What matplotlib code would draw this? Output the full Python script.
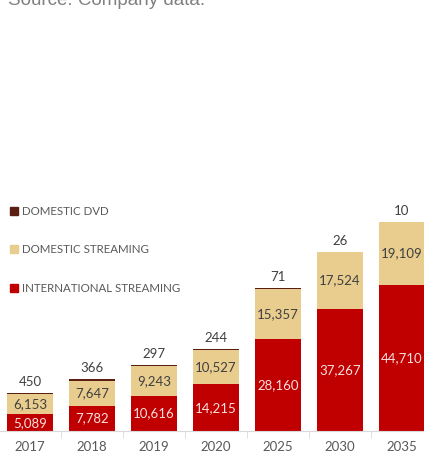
import matplotlib
matplotlib.use("Agg")
import matplotlib.pyplot as plt
from matplotlib.lines import Line2D
import numpy as np

# Data
years = ["2017", "2018", "2019", "2020", "2025", "2030", "2035"]
intl_streaming = [5089, 7782, 10616, 14215, 28160, 37267, 44710]
dom_streaming = [6153, 7647, 9243, 10527, 15357, 17524, 19109]
dom_dvd = [450, 366, 297, 244, 71, 26, 10]

RED = "#C00000"
TAN = "#E8CD8F"
DVD = "#5A1E12"

plt.rcParams["font.family"] = ["Lato", "DejaVu Sans"]

W, H = 424, 453
fig = plt.figure(figsize=(W / 100, H / 100), dpi=100)

# axes placed in pixel terms so the right-most bar runs off the edge like the original
ax = fig.add_axes([-1 / W, 22 / H, 434 / W, 229 / H])

x = np.arange(len(years))
bw = 0.74
intl = np.array(intl_streaming)
dom = np.array(dom_streaming)
dvd = np.array(dom_dvd)

ax.bar(x, intl, bw, color=RED, zorder=2)
ax.bar(x, dom, bw, bottom=intl, color=TAN, zorder=2)
ax.bar(x, dvd, bw, bottom=intl + dom, color=DVD, zorder=2)

ax.set_xlim(-0.5, len(years) - 0.5)
ax.set_ylim(0, 70000)

# segment labels
for i in range(len(years)):
    ax.text(x[i], intl[i] / 2, f"{intl[i]:,}", ha="center", va="center",
            color="#F6E0E0", fontsize=9.5)
    ax.text(x[i], intl[i] + dom[i] / 2, f"{dom[i]:,}", ha="center", va="center",
            color="#404040", fontsize=9.5)
    ax.text(x[i], intl[i] + dom[i] + dvd[i] + 1500, f"{dvd[i]:,}", ha="center",
            va="bottom", color="#404040", fontsize=9.5)

# axis styling
for s in ["top", "right", "left"]:
    ax.spines[s].set_visible(False)
ax.spines["bottom"].set_color("#D9D9D9")
ax.set_yticks([])
ax.set_xticks(x)
ax.set_xticklabels(years, color="#595959", fontsize=9.5)
ax.tick_params(axis="x", which="major", length=0, pad=7.5)
ax.set_xticks(x[:-1] + 0.5, minor=True)
ax.tick_params(axis="x", which="minor", length=5, color="#D9D9D9")

# legend
handles = [
    Line2D([], [], marker="s", linestyle="none", color=DVD, markersize=5.5),
    Line2D([], [], marker="s", linestyle="none", color=TAN, markersize=5.5),
    Line2D([], [], marker="s", linestyle="none", color=RED, markersize=5.5),
]
labels = ["DOMESTIC DVD", "DOMESTIC STREAMING", "INTERNATIONAL STREAMING"]
leg = fig.legend(handles, labels, loc="upper left", bbox_to_anchor=(6 / W, 1 - 201 / H),
                 frameon=False, fontsize=8.3, labelspacing=2.4, handlelength=0.6,
                 handletextpad=0.35, borderaxespad=0)
for t in leg.get_texts():
    t.set_color("#595959")

# source line, mostly cut off at the top (as in the original)
fig.text(8 / W, 1 - 5 / H, "Source: Company data.", fontsize=13.5, color="#808080",
         family="Liberation Sans", va="baseline")

fig.savefig("out.png", dpi=100)
